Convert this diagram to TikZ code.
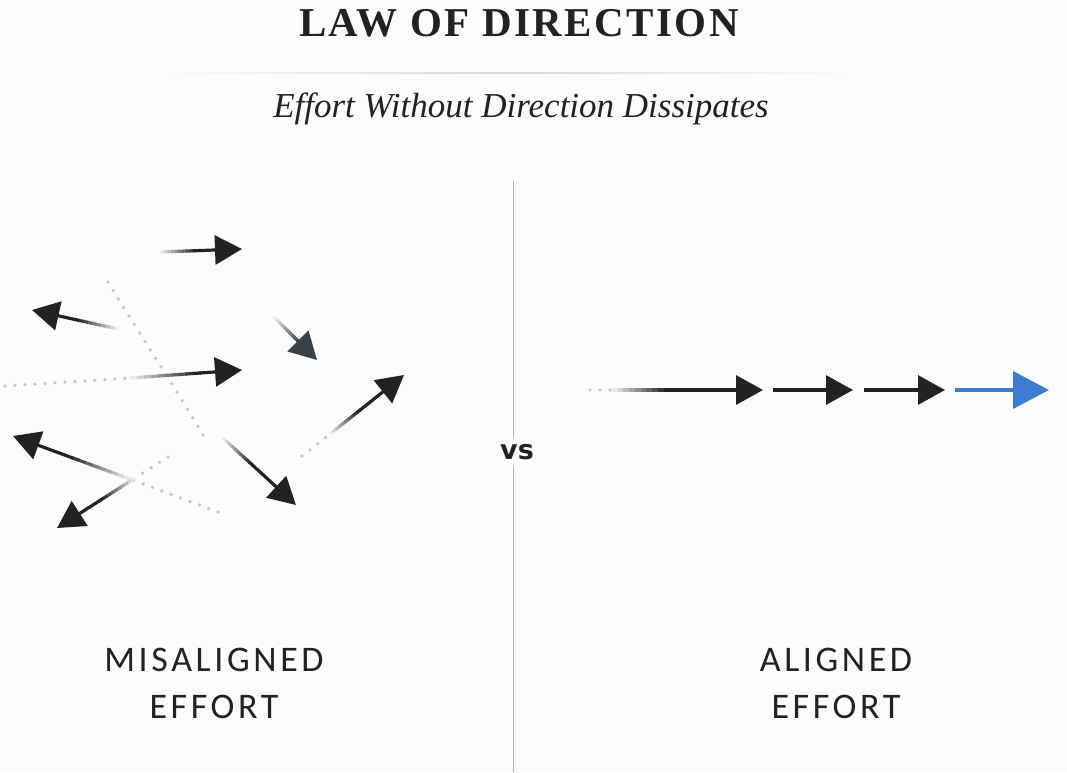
\documentclass[tikz,border=0pt]{standalone}
\usepackage{fontspec}
\setmainfont{Liberation Serif}
\newfontfamily\titlefont[LetterSpace=6]{Liberation Serif}
\newfontfamily\labelfont[LetterSpace=10]{Carlito}
\newfontfamily\vsfont{DejaVu Sans}
\usetikzlibrary{arrows.meta,calc,positioning}

\definecolor{ink}{HTML}{222222}
\definecolor{slate}{HTML}{3A4148}
\definecolor{dotgray}{HTML}{C4CAD0}
\definecolor{rulegray}{HTML}{D3DADF}
\definecolor{accent}{HTML}{3E7BD2}
\definecolor{paper}{HTML}{FCFCFB}

\tikzset{
  shaft/.style={line width=3.2pt},
  dotline/.style={draw=dotgray,line width=3.8pt,line cap=round,dash pattern=on 0pt off 10pt},
  tip/.style={-{Triangle[length=27pt,width=29pt]}},
  bigtip/.style={-{Triangle[length=36pt,width=37pt]},line width=3.6pt},
  lbl/.style={font=\labelfont\fontsize{36}{47}\selectfont,text=ink,inner sep=0pt,align=center},
}

% tail that fades in from light to full colour
\newcommand{\fadeline}[3]{%
  \foreach \k in {1,...,10}{
    \pgfmathtruncatemacro{\sh}{\k*10}
    \draw[shaft,#3!\sh] ($(#1)!{(\k-1)/10}!(#2)$) -- ($(#1)!{\k/10+0.02}!(#2)$);
  }}
% tail, head, where it turns solid, colour, tip
\newcommand{\fadearrow}[5]{%
  \coordinate (fa) at ($(#1)!#3!(#2)$);
  \fadeline{#1}{fa}{#4}
  \draw[shaft,#4,#5] (fa) -- (#2);
}

\begin{document}
\begin{tikzpicture}[x=1pt,y=-1pt]
  \fill[paper] (0,0) rectangle (1067,772);
  \useasboundingbox (0,0) rectangle (1067,772);

  % heading
  \node[font=\titlefont\bfseries\fontsize{41}{41}\selectfont,text=ink,anchor=base] (title) at (519,36) {LAW OF DIRECTION};
  \shade[left color=paper,right color=paper,middle color=rulegray] (155,72.2) rectangle (865,73.8);
  \node[font=\itshape\fontsize{35}{35}\selectfont,text=ink,anchor=base] (subtitle) at (521,117) {Effort Without Direction Dissipates};

  % divider
  \node[font=\vsfont\bfseries\fontsize{27}{27}\selectfont,text=ink,inner sep=6pt] (vs) at (517,452) {vs};
  \coordinate (divtop) at (513,181);
  \coordinate (divbot) at (513,772);
  \draw[gray!60,line width=1pt] (divtop) -- (divtop |- vs.north);
  \draw[gray!60,line width=1pt] (divtop |- vs.south) -- (divbot);

  % misaligned
  \coordinate (m1t) at (160,252);  \coordinate (m1h) at (242,249);
  \coordinate (m2t) at (118,329);  \coordinate (m2h) at (32,310);
  \coordinate (m3t) at (274,317);  \coordinate (m3h) at (317,360);
  \coordinate (m4d) at (5,386);    \coordinate (m4t) at (130,378);  \coordinate (m4h) at (242,370);
  \coordinate (m5d) at (302,456);  \coordinate (m5t) at (330,434);  \coordinate (m5h) at (404,375);
  \coordinate (m6d) at (218,512);  \coordinate (m6t) at (130,479);  \coordinate (m6h) at (13,436);
  \coordinate (m7d) at (168,457);  \coordinate (m7t) at (135,478);  \coordinate (m7h) at (57,528);
  \coordinate (m8t) at (223,438);  \coordinate (m8h) at (296,505);

  \draw[dotline] (108,282) .. controls (140,335) and (180,395) .. (207,442);
  \draw[dotline] (m4d) -- (m4t);
  \draw[dotline] (m5d) -- (m5t);
  \draw[dotline] (m6d) -- (m6t);
  \draw[dotline] (m7d) -- (m7t);

  \fadearrow{m1t}{m1h}{0.45}{ink}{tip}
  \fadearrow{m2t}{m2h}{0.5}{ink}{tip}
  \fadearrow{m3t}{m3h}{0.6}{slate}{tip}
  \fadearrow{m4t}{m4h}{0.62}{ink}{tip}
  \fadearrow{m5t}{m5h}{0.4}{ink}{tip}
  \fadearrow{m6t}{m6h}{0.54}{ink}{tip}
  \fadearrow{m7t}{m7h}{0.45}{ink}{tip}
  \fadearrow{m8t}{m8h}{0.4}{ink}{tip}

  % aligned
  \coordinate (a1d) at (590,390);  \coordinate (a1t) at (612,390);  \coordinate (a1h) at (763,390);
  \coordinate (a2t) at (773,390);  \coordinate (a2h) at (853,390);
  \coordinate (a3t) at (864,390);  \coordinate (a3h) at (945,390);
  \coordinate (a4t) at (955,390);  \coordinate (a4h) at (1049,390);
  \draw[dotline] (a1d) -- (a1t);
  \fadearrow{a1t}{a1h}{0.38}{ink}{tip}
  \draw[shaft,ink,tip] (a2t) -- (a2h);
  \draw[shaft,ink,tip] (a3t) -- (a3h);
  \draw[shaft,accent,bigtip] (a4t) -- (a4h);

  % captions
  \node[lbl,anchor=north] (mis) at (214,648) {MISALIGNED\\EFFORT};
  \node[lbl,anchor=north] (ali) at (836,648) {ALIGNED\\EFFORT};
\end{tikzpicture}
\end{document}
